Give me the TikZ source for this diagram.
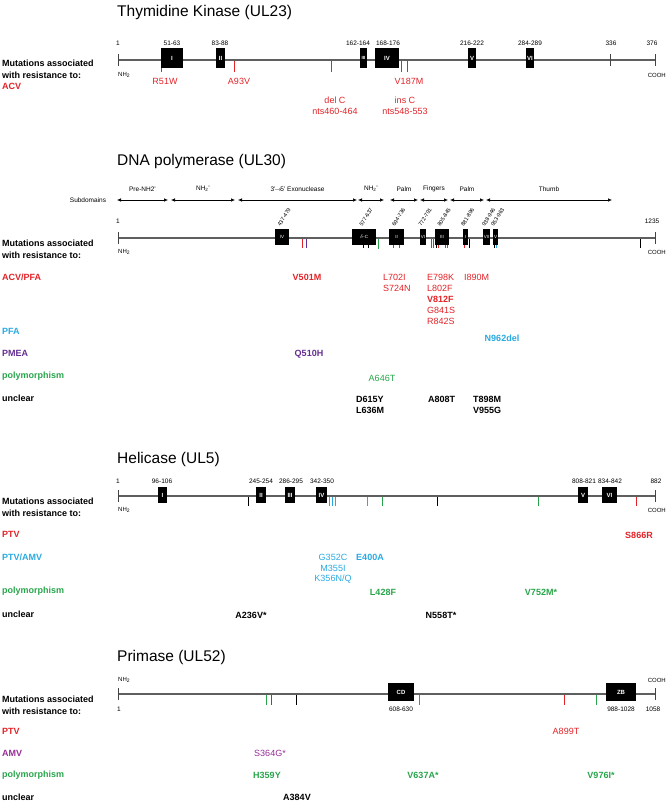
\documentclass[tikz,border=0pt]{standalone}
\usepackage{fontspec}
\setmainfont{Liberation Sans}
\usetikzlibrary{arrows.meta}
\definecolor{cred}{RGB}{226,35,40}
\definecolor{ccyan}{RGB}{40,170,225}
\definecolor{cpur}{RGB}{100,45,145}
\definecolor{cmag}{RGB}{150,45,150}
\definecolor{cgrn}{RGB}{40,165,75}
\definecolor{cbar}{RGB}{95,95,95}
\tikzset{
  ttl/.style={anchor=west, inner sep=0, font=\fontsize{15.5}{18}\selectfont},
  cat/.style={anchor=west, inner sep=0, font=\fontsize{9}{11}\selectfont\bfseries},
  mut/.style={inner sep=0, font=\fontsize{9}{11}\selectfont},
  mutb/.style={inner sep=0, font=\fontsize{9}{11}\selectfont\bfseries},
  num/.style={inner sep=0, font=\fontsize{6.5}{8}\selectfont},
  term/.style={inner sep=0, font=\fontsize{6}{7}\selectfont},
  genebar/.style={draw=cbar, line width=1.2pt},
  endtick/.style={draw=cbar!70!black, line width=0.9pt},
  gbox/.style={fill=black, draw=none, text=white, inner sep=0, font=\fontsize{6}{7}\selectfont\bfseries},
  mtick/.style={line width=0.9pt},
  subarrow/.style={draw=black, line width=0.6pt, {Latex[length=4pt,width=3.5pt]}-{Latex[length=4pt,width=3.5pt]}},
}
\begin{document}
\begin{tikzpicture}[x=1pt,y=-1pt]
\useasboundingbox (0,0) rectangle (666,804);

%% ================= Thymidine kinase =================
\node[ttl] (tkT) at (117,12) {Thymidine Kinase (UL23)};
\coordinate (tkS) at (118,60); \coordinate (tkE) at (655,60);
\foreach \x/\c in {161/cred,234/cred,331/cred,401/cred,407/cred}
  \draw[mtick,\c] (\x,61) -- (\x,72);
\draw[genebar] (tkS) -- (tkE);
\draw[endtick] (118,54) -- (118,66);
\draw[endtick] (655,54) -- (655,66);
\draw[endtick] (610,54) -- (610,66);
\node[gbox, minimum width=22, minimum height=20] (tkI) at (172,58) {I};
\node[gbox, minimum width=9, minimum height=20] (tkII) at (220.5,58) {II};
\node[gbox, minimum width=7, minimum height=20, font=\fontsize{4.5}{5}\selectfont\bfseries] (tkIII) at (363.5,58) {III};
\node[gbox, minimum width=24, minimum height=20] (tkIV) at (387,58) {IV};
\node[gbox, minimum width=8, minimum height=20] (tkV) at (472,58) {V};
\node[gbox, minimum width=8, minimum height=20] (tkVI) at (530,58) {VI};
\foreach \x/\t [count=\i] in {118/1,172/51-63,220/83-88,358/162-164,388/168-176,472/216-222,530/284-289,611/336,652/376}
  \node[num] (tkn\i) at (\x,43) {\t};
\node[term, anchor=west] (tkN) at (118,75) {NH\textsubscript{2}};
\node[term, anchor=east] (tkC) at (666,75) {COOH};
\node[cat] (tkM1) at (2,63) {Mutations associated};
\node[cat] (tkM2) at (2,75) {with resistance to:};
\node[cat, text=cred] (tkACV) at (2,86) {ACV};
\node[mut, text=cred] (tkm1) at (165,81) {R51W};
\node[mut, text=cred] (tkm2) at (239,81) {A93V};
\node[mut, text=cred] (tkm3) at (409,81) {V187M};
\node[mut, text=cred, align=center, font=\fontsize{9}{11.5}\selectfont] (tkm4) at (335,106) {del C\\nts460-464};
\node[mut, text=cred, align=center, font=\fontsize{9}{11.5}\selectfont] (tkm5) at (405,106) {ins C\\nts548-553};

%% ================= DNA polymerase =================
\node[ttl] (poT) at (117,161) {DNA polymerase (UL30)};
\node[num] (poSub) at (88,200) {Subdomains};
\foreach \a/\b/\t [count=\i] in {117/168/Pre-NH2',171/235/NH\textsubscript{2}',238/357/3'$\!\rightarrow\!$5' Exonuclease,358/384/NH\textsubscript{2}',390/418/Palm,420/448/Fingers,450/484/Palm,486/612/Thumb}{
  \coordinate (sa\i) at (\a,200); \coordinate (sb\i) at (\b,200);
  \draw[subarrow] (sa\i) -- (sb\i);
  \node[num] (sl\i) at ({(\a+\b)/2},189) {\t};
}
\coordinate (poS) at (118,238); \coordinate (poE) at (655,238);
\foreach \x/\c in {302/cred,306/cpur,363/black,368/black,393/cred,399/cred,431/cred,433/cred,436/black,438/cred,445/cred,447/cred,464/cred,469/black,494/black,496/ccyan,640/black}
  \draw[mtick,\c] (\x,239) -- (\x,248);
\draw[mtick,cgrn] (378,239) -- (378,249);
\draw[genebar] (poS) -- (poE);
\draw[endtick] (118,232) -- (118,244);
\draw[endtick] (655,232) -- (655,244);
\foreach \cx/\w/\t/\l [count=\i] in {282/14/IV/437-479,364/24/$\delta$-C/577-637,396.5/15/II/694-736,423/6/VI/772-791,442/14/III/805-845,465.5/5/I/881-896,486.5/7/VII/938-946,495.5/5/V/953-963}{
  \node[gbox, minimum width=\w, minimum height=16, font=\fontsize{4.5}{5}\selectfont] (pb\i) at (\cx,237) {\t};
  \node[num, font=\fontsize{5.5}{6.5}\selectfont, rotate=58, anchor=south west] (pl\i) at (\cx-1.5,227) {\l};
}
\node[num] (pon1) at (118,221) {1};
\node[num] (pon2) at (652,221) {1235};
\node[term, anchor=west] (poN) at (118,252) {NH\textsubscript{2}};
\node[term, anchor=east] (poC) at (666,252) {COOH};
\node[cat] (poM1) at (2,243) {Mutations associated};
\node[cat] (poM2) at (2,255) {with resistance to:};
\node[cat, text=cred] (poc1) at (2,277) {ACV/PFA};
\node[cat, text=ccyan] (poc2) at (2,331) {PFA};
\node[cat, text=cpur] (poc3) at (2,353) {PMEA};
\node[cat, text=cgrn] (poc4) at (2,376) {polymorphism};
\node[cat] (poc5) at (2,398) {unclear};
\node[mutb, text=cred] (pom1) at (307,277) {V501M};
\node[mut, text=cred, anchor=west] (pom2) at (383,277) {L702I};
\node[mut, text=cred, anchor=west] (pom3) at (383,288) {S724N};
\node[mut, text=cred, anchor=west] (pom4) at (427,277) {E798K};
\node[mut, text=cred, anchor=west] (pom5) at (427,288) {L802F};
\node[mutb, text=cred, anchor=west] (pom6) at (427,299) {V812F};
\node[mut, text=cred, anchor=west] (pom7) at (427,310) {G841S};
\node[mut, text=cred, anchor=west] (pom8) at (427,321) {R842S};
\node[mut, text=cred, anchor=west] (pom9) at (464,277) {I890M};
\node[mutb, text=ccyan] (pom10) at (502,338) {N962del};
\node[mutb, text=cpur] (pom11) at (309,354) {Q510H};
\node[mut, text=cgrn] (pom12) at (382,378) {A646T};
\node[mutb, anchor=west] (pom13) at (356,399) {D615Y};
\node[mutb, anchor=west] (pom14) at (356,410) {L636M};
\node[mutb, anchor=west] (pom15) at (428,399) {A808T};
\node[mutb, anchor=west] (pom16) at (473,399) {T898M};
\node[mutb, anchor=west] (pom17) at (473,410) {V955G};

%% ================= Helicase =================
\node[ttl] (heT) at (117,459) {Helicase (UL5)};
\coordinate (heS) at (118,496); \coordinate (heE) at (655,496);
\foreach \x/\c in {248/black,329/ccyan,332/ccyan,335/ccyan,367/ccyan,382/cgrn,437/black,538/cgrn,636/cred}
  \draw[mtick,\c] (\x,497) -- (\x,506);
\draw[genebar] (heS) -- (heE);
\draw[endtick] (118,490) -- (118,502);
\draw[endtick] (655,490) -- (655,502);
\foreach \cx/\w/\t [count=\i] in {162.5/9/I,261/10/II,290/10/III,321.5/11/IV,583/10/V,609.5/15/VI}
  \node[gbox, minimum width=\w, minimum height=16] (hb\i) at (\cx,495) {\t};
\foreach \x/\t [count=\i] in {118/1,162/96-106,261/245-254,291/286-295,322/342-350,584/808-821,610/834-842,656/882}
  \node[num] (hen\i) at (\x,481) {\t};
\node[term, anchor=west] (heN) at (118,510) {NH\textsubscript{2}};
\node[term, anchor=east] (heC) at (666,510) {COOH};
\node[cat] (heM1) at (2,501) {Mutations associated};
\node[cat] (heM2) at (2,513) {with resistance to:};
\node[cat, text=cred] (hec1) at (2,534) {PTV};
\node[cat, text=ccyan] (hec2) at (2,557) {PTV/AMV};
\node[cat, text=cgrn] (hec3) at (2,591) {polymorphism};
\node[cat] (hec4) at (2,614) {unclear};
\node[mutb, text=cred] (hem1) at (639,535) {S866R};
\node[mut, text=ccyan] (hem2) at (333,557) {G352C};
\node[mut, text=ccyan] (hem3) at (333,568) {M355I};
\node[mut, text=ccyan] (hem4) at (333,579) {K356N/Q};
\node[mutb, text=ccyan] (hem5) at (370,557) {E400A};
\node[mutb, text=cgrn] (hem6) at (383,592) {L428F};
\node[mutb, text=cgrn] (hem7) at (541,592) {V752M*};
\node[mutb] (hem8) at (251,615) {A236V*};
\node[mutb] (hem9) at (441,615) {N558T*};

%% ================= Primase =================
\node[ttl] (prT) at (117,657) {Primase (UL52)};
\coordinate (prS) at (118,694); \coordinate (prE) at (655,694);
\foreach \x/\c in {266/cgrn,271/cmag,296/black,419/cgrn,564/cred,596/cgrn}
  \draw[mtick,\c] (\x,695) -- (\x,705);
\draw[genebar] (prS) -- (prE);
\draw[endtick] (118,688) -- (118,700);
\draw[endtick] (655,688) -- (655,700);
\node[gbox, minimum width=26, minimum height=18] (prCD) at (401,692) {CD};
\node[gbox, minimum width=30, minimum height=18] (prZB) at (621,692) {ZB};
\node[term, anchor=west] (prN) at (118,680) {NH\textsubscript{2}};
\node[term, anchor=east] (prC) at (666,680) {COOH};
\foreach \x/\t [count=\i] in {119/1,401/608-630,621/988-1028,653/1058}
  \node[num] (prn\i) at (\x,709) {\t};
\node[cat] (prM1) at (2,699) {Mutations associated};
\node[cat] (prM2) at (2,711) {with resistance to:};
\node[cat, text=cred] (prc1) at (2,731) {PTV};
\node[cat, text=cmag] (prc2) at (2,753) {AMV};
\node[cat, text=cgrn] (prc3) at (2,775) {polymorphism};
\node[cat] (prc4) at (2,797) {unclear};
\node[mut, text=cred] (prm1) at (566,731) {A899T};
\node[mut, text=cmag] (prm2) at (270,753) {S364G*};
\node[mutb, text=cgrn] (prm3) at (267,775) {H359Y};
\node[mutb, text=cgrn] (prm4) at (423,775) {V637A*};
\node[mutb, text=cgrn] (prm5) at (601,775) {V976I*};
\node[mutb] (prm6) at (297,797) {A384V};
\end{tikzpicture}
\end{document}
